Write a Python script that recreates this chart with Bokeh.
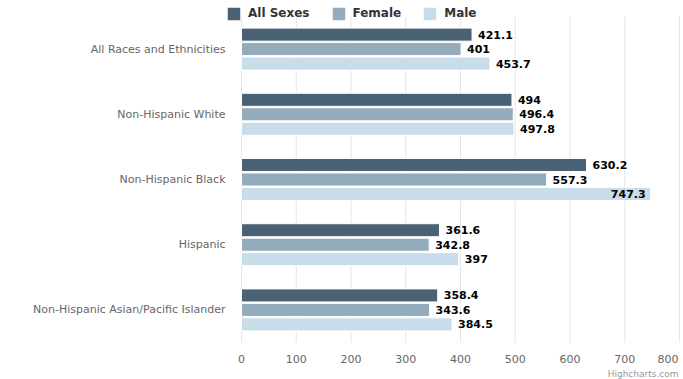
from bokeh.plotting import figure
from bokeh.models import ColumnDataSource, Range1d, Legend, LegendItem
from bokeh.core.properties import value
from bokeh.embed import file_html
from bokeh.resources import INLINE

# Rates by race/ethnicity and sex
categories = [
    "All Races and Ethnicities",
    "Non-Hispanic White",
    "Non-Hispanic Black",
    "Hispanic",
    "Non-Hispanic Asian/Pacific Islander",
]
all_sexes = [421.1, 494, 630.2, 361.6, 358.4]
female = [401, 496.4, 557.3, 342.8, 343.6]
male = [453.7, 497.8, 747.3, 397, 384.5]
x_ticks = [0, 100, 200, 300, 400, 500, 600, 700, 800]

series = [
    ("All Sexes", all_sexes, "#4a6274", -0.222),
    ("Female", female, "#94abbb", 0.0),
    ("Male", male, "#c8dce9", 0.222),
]

FONT = "DejaVu Sans"
W, H = 683, 379
# plot box in canvas pixels: value 0 at x=241, 800 at x=679; bands from y=16 to 342
X0_PX, X1_PX = 241, 679
BAND_TOP_PX, BAND_BOTTOM_PX = 16, 342
X_MAX = 800
px_per_unit = (X1_PX - X0_PX) / X_MAX
n = len(categories)
band_px = (BAND_BOTTOM_PX - BAND_TOP_PX) / n
y_bottom = n - 0.5 + (H - BAND_BOTTOM_PX) / band_px
y_top = -0.5 - BAND_TOP_PX / band_px

p = figure(
    width=W, height=H,
    x_range=Range1d(-X0_PX / px_per_unit, X_MAX + (W - X1_PX) / px_per_unit),
    # category index grows downward
    y_range=Range1d(y_bottom, y_top),
    output_backend="svg", toolbar_location=None,
    min_border=0,
)
p.outline_line_color = None
p.background_fill_color = "white"
p.xaxis.visible = False
p.yaxis.visible = False
p.xgrid.grid_line_color = None
p.ygrid.grid_line_color = None

# vertical grid lines at the value ticks, spanning the category bands
nt = len(x_ticks)
p.segment(x0=x_ticks, x1=x_ticks, y0=[-0.5] * nt, y1=[n - 0.5] * nt,
          line_color="#e6e6e6", line_width=1)

# value tick labels under the bands; a label that would run off the
# right edge is pulled back inside it
tick_fits = [X0_PX + t * px_per_unit + 12 <= W for t in x_ticks]
tick_src = ColumnDataSource(dict(
    x=x_ticks,
    y=[n - 0.5] * nt,
    txt=[str(t) for t in x_ticks],
    align=["center" if f else "right" for f in tick_fits],
    xoff=[0 if f else -1 for f in tick_fits],
))
p.text(x="x", y="y", text="txt", source=tick_src, x_offset="xoff",
       y_offset=16, text_align="align", text_baseline="middle",
       text_font=value(FONT), text_font_size="11px", text_color="#666666")

# category labels to the left of the bars
idx = list(range(n))
p.text(x=[0] * n, y=idx, text=categories, x_offset=-16,
       text_align="right", text_baseline="middle",
       text_font=value(FONT), text_font_size="11px", text_color="#666666")

items = []
for name, vals, color, off in series:
    ys = [i + off for i in idx]
    # labels that would run past the plot edge go inside the bar end
    inside = [v * px_per_unit + 36 > (X1_PX - X0_PX) for v in vals]
    src = ColumnDataSource(dict(
        y=ys,
        val=vals,
        txt=[f"{v:g}" for v in vals],
        align=["right" if i else "left" for i in inside],
        xoff=[-5 if i else 6 for i in inside],
    ))
    r = p.hbar(y="y", right="val", left=0, height=0.2, source=src,
               fill_color=color, line_color="white", line_width=1)
    p.text(x="val", y="y", text="txt", source=src,
           x_offset="xoff", text_align="align", text_baseline="middle",
           text_font=value(FONT), text_font_style="bold",
           text_font_size="11px", text_color="#000000")
    items.append(LegendItem(label=name, renderers=[r]))

legend = Legend(
    items=items, orientation="horizontal", location=(225, H - 21.5),
    glyph_width=17, glyph_height=17, label_standoff=6, spacing=20,
    padding=0, margin=0, border_line_color=None, background_fill_alpha=0,
    label_text_font=FONT, label_text_font_style="bold",
    label_text_font_size="12px", label_text_color="#333333",
    label_height=17,
)
p.add_layout(legend, "center")

# credit line, bottom right
p.text(x=[X_MAX], y=[n - 0.5], text=["Highcharts.com"], x_offset=-1, y_offset=31,
       text_align="right", text_baseline="middle",
       text_font=value(FONT), text_font_size="9px", text_color="#999999")

open("out.html", "w").write(file_html(p, INLINE))
